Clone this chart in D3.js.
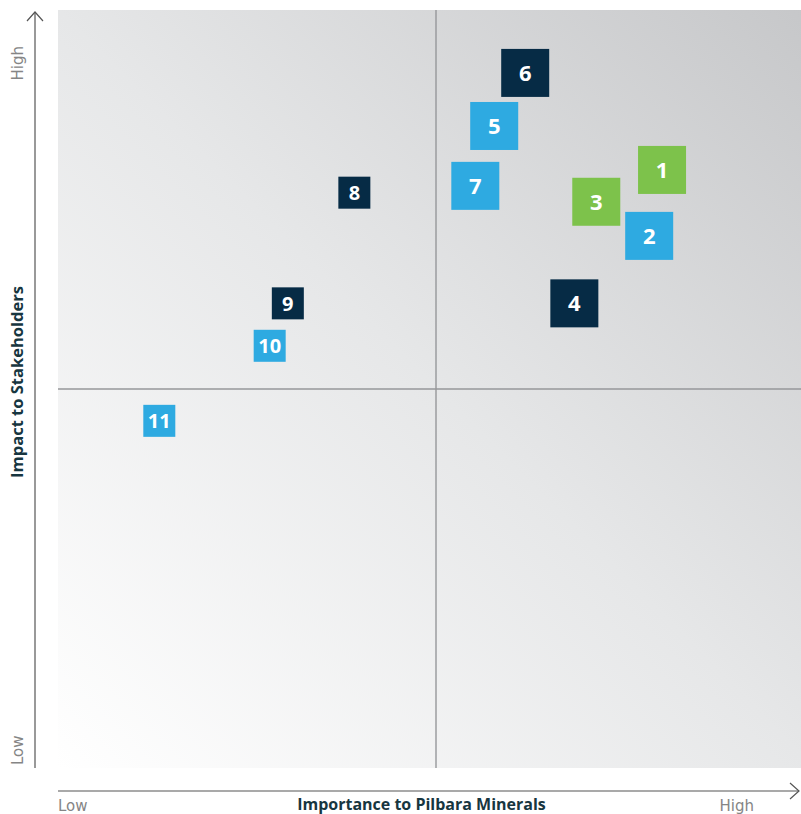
<!DOCTYPE html>
<html><head><meta charset="utf-8">
<script src="https://cdn.jsdelivr.net/npm/d3@7"></script>
<style>body{margin:0;background:#fff;}svg{display:block;}</style>
</head><body>
<svg id="chart" width="801" height="814"></svg>
<script>
const labels = ["1","2","3","4","5","6","7","8","9","10","11"];
const importance = [79.9,78.2,71.2,68.3,57.7,61.8,55.2,39.2,30.4,28.0,13.4];
const impact = [78.9,70.2,74.7,61.3,84.7,91.7,76.8,75.9,61.3,55.7,45.8];
const groups = ["green","blue","green","navy","blue","navy","blue","navy","navy","blue","blue"];
const sizes = ["L","L","L","L","L","L","L","S","S","S","S"];
const xTicks = ["Low","High"];
const yTicks = ["Low","High"];
const xTitle = "Importance to Pilbara Minerals";
const yTitle = "Impact to Stakeholders";

const colors = {green:"#7dc24b", blue:"#2eaae1", navy:"#062b45"};
const boxSize = {L:48, S:32};
const fontSize = {L:22, S:20};

const svg = d3.select("#chart");
const pLeft = 58, pRight = 814, pTop = 10, pBottom = 768;
const x = d3.scaleLinear().domain([0,100]).range([pLeft,pRight]);
const y = d3.scaleLinear().domain([0,100]).range([pBottom,pTop]);

const defs = svg.append("defs");
const grad = defs.append("linearGradient").attr("id","bg")
  .attr("x1","0").attr("y1","1").attr("x2","1").attr("y2","0");
grad.append("stop").attr("offset","0").attr("stop-color","#ffffff");
grad.append("stop").attr("offset","0.5").attr("stop-color","#e6e7e8");
grad.append("stop").attr("offset","1").attr("stop-color","#c6c7c9");

svg.append("rect").attr("x",x(0)).attr("y",y(100))
  .attr("width",x(100)-x(0)).attr("height",y(0)-y(100)).attr("fill","url(#bg)");

// quadrant lines
svg.append("line").attr("x1",x(50)).attr("x2",x(50)).attr("y1",y(100)).attr("y2",y(0))
  .attr("stroke","#96979a").attr("stroke-width",1.4);
svg.append("line").attr("x1",x(0)).attr("x2",x(100)).attr("y1",y(50)).attr("y2",y(50))
  .attr("stroke","#96979a").attr("stroke-width",1.4);

// axes with arrows
const axCol = "#555";
svg.append("line").attr("x1",35).attr("x2",35).attr("y1",12).attr("y2",768)
  .attr("stroke",axCol).attr("stroke-width",1.2);
svg.append("path").attr("d","M27,21 L35,12 L43,21").attr("fill","none").attr("stroke",axCol).attr("stroke-width",1.2);
svg.append("line").attr("x1",58).attr("x2",799).attr("y1",791).attr("y2",791)
  .attr("stroke",axCol).attr("stroke-width",1.2);
svg.append("path").attr("d","M790,783 L799,791 L790,799").attr("fill","none").attr("stroke",axCol).attr("stroke-width",1.2);

const ff = "'Open Sans', 'Noto Sans', sans-serif";
const tf = "'DejaVu Sans', sans-serif";
const tickCol = "#858585";
// x labels
svg.append("text").attr("x",58).attr("y",811).text(xTicks[0])
  .attr("font-family",tf).attr("font-size",15).attr("fill",tickCol);
svg.append("text").attr("x",754).attr("y",811).attr("text-anchor","end").text(xTicks[1])
  .attr("font-family",tf).attr("font-size",15).attr("fill",tickCol);
svg.append("text").attr("x",421.5).attr("y",810).attr("text-anchor","middle").text(xTitle)
  .attr("font-family",ff).attr("font-size",16).attr("font-weight",700).attr("fill","#173640");
// y labels
svg.append("text").attr("transform","translate(23,765) rotate(-90)").text(yTicks[0])
  .attr("font-family",tf).attr("font-size",15).attr("fill",tickCol);
svg.append("text").attr("transform","translate(23,46) rotate(-90)").attr("text-anchor","end").text(yTicks[1])
  .attr("font-family",tf).attr("font-size",15).attr("fill",tickCol);
svg.append("text").attr("transform","translate(23,382) rotate(-90)").attr("text-anchor","middle").text(yTitle)
  .attr("font-family",ff).attr("font-size",16.5).attr("font-weight",700).attr("fill","#173640");

const data = labels.map((l,i)=>({l, x:importance[i], y:impact[i], g:groups[i], s:sizes[i]}));
const g = svg.append("g").selectAll("g").data(data).join("g")
  .attr("transform",d=>`translate(${x(d.x)},${y(d.y)})`);
g.append("rect").attr("x",d=>-boxSize[d.s]/2).attr("y",d=>-boxSize[d.s]/2)
  .attr("width",d=>boxSize[d.s]).attr("height",d=>boxSize[d.s]).attr("fill",d=>colors[d.g]);
g.append("text").attr("text-anchor","middle").attr("dy","0.36em")
  .attr("font-family",ff).attr("font-weight",700).attr("font-size",d=>fontSize[d.s])
  .attr("fill","#fff").text(d=>d.l);
</script>
</body></html>
